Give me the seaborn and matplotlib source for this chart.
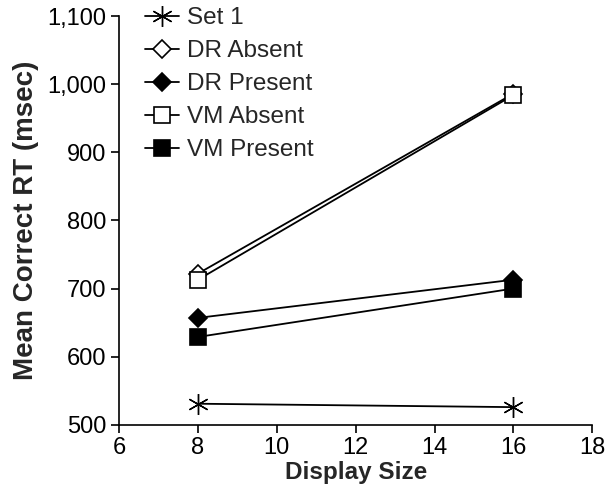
import pandas as pd
import matplotlib
matplotlib.use("Agg")
import matplotlib.pyplot as plt
import seaborn as sns
from matplotlib.legend_handler import HandlerLine2D

# Data
display_size = [8, 16]
set1 = [531, 526]
dr_absent = [722, 986]
dr_present = [657, 713]
vm_absent = [713, 984]
vm_present = [629, 700]

series = {
    "Set 1": set1,
    "DR Absent": dr_absent,
    "DR Present": dr_present,
    "VM Absent": vm_absent,
    "VM Present": vm_present,
}

rows = []
for name, vals in series.items():
    for x, y in zip(display_size, vals):
        rows.append({"Series": name, "Display Size": x, "RT": y})
data = pd.DataFrame(rows)

sns.set_style("ticks")
plt.rcParams["font.family"] = ["Liberation Sans", "DejaVu Sans"]

styles = {
    "Set 1": dict(marker=(6, 2, 0), markersize=15, mfc="black", mew=1.0),
    "DR Absent": dict(marker="D", markersize=9, mfc="white", mew=1.2),
    "DR Present": dict(marker="D", markersize=9, mfc="black", mew=1.2),
    "VM Absent": dict(marker="s", markersize=12, mfc="white", mew=1.2),
    "VM Present": dict(marker="s", markersize=12, mfc="black", mew=1.2),
}


# legend with the marker at the left end of the line
class LeftMarker(HandlerLine2D):
    def get_xdata(self, legend, xdescent, ydescent, width, height, fontsize):
        xdata = [-xdescent, -xdescent + width]
        return xdata, [-xdescent + 4]


fig = plt.figure(figsize=(6.08, 5.01), dpi=100)
ax = fig.add_axes([0.196, 0.152, 0.778, 0.816])

for name in series:
    sub = data[data["Series"] == name]
    sns.lineplot(x="Display Size", y="RT", data=sub, ax=ax, color="black",
                 linewidth=1.3, mec="black", label=name, **styles[name])

ax.set_xlim(6, 18)
ax.set_ylim(500, 1100)
ax.set_xticks(range(6, 19, 2))
ax.set_yticks(range(500, 1101, 100))
ax.set_yticklabels([f"{v:,}" for v in range(500, 1101, 100)])
ax.tick_params(labelsize=17, direction="out", length=6, width=1.2, colors="black", pad=3)
for s in ["left", "bottom"]:
    ax.spines[s].set_linewidth(1.2)
    ax.spines[s].set_color("black")
sns.despine(ax=ax)

ax.set_xlabel("Display Size", fontsize=17.5, fontweight="bold", labelpad=1)
ax.set_ylabel("Mean Correct RT (msec)", fontsize=20, fontweight="bold", labelpad=6)

handles, labels = ax.get_legend_handles_labels()
ax.legend(handles, labels, loc="upper left", bbox_to_anchor=(0.035, 1.045), frameon=False,
          fontsize=17.5, numpoints=1, handlelength=1.4, handletextpad=0.3,
          labelspacing=0.45, borderaxespad=0.0,
          handler_map={h: LeftMarker() for h in handles})

fig.savefig("out.png", dpi=100)
